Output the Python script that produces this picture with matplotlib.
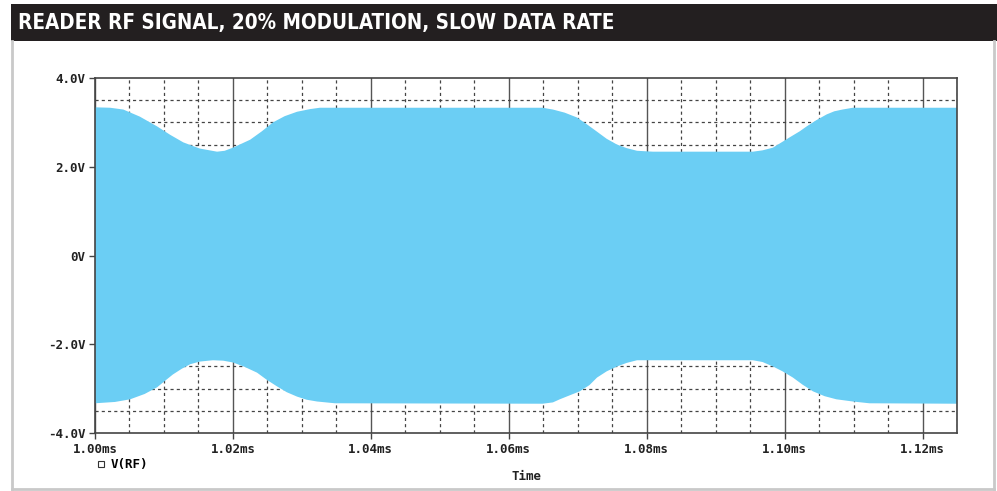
import matplotlib.pyplot as plt
import matplotlib.patches as patches
from matplotlib.ticker import MultipleLocator, FuncFormatter
from matplotlib.lines import Line2D
import numpy as np

# Envelope of the RF carrier (ms, V)
t_upper = [1.000, 1.0022, 1.0041, 1.0065, 1.0090, 1.0109, 1.0128, 1.0152,
           1.0177, 1.0188, 1.0200, 1.0225, 1.0242, 1.0258, 1.0275, 1.0293,
           1.0312, 1.0326, 1.0649, 1.0664, 1.0681, 1.0699, 1.0713, 1.0728,
           1.0742, 1.0757, 1.0771, 1.0786, 1.0809, 1.0954, 1.0968, 1.0983,
           1.1007, 1.1022, 1.1032, 1.1046, 1.1061, 1.1072, 1.1084, 1.1099,
           1.125]
v_upper = [3.34, 3.33, 3.29, 3.13, 2.91, 2.72, 2.55, 2.41,
           2.34, 2.36, 2.43, 2.61, 2.80, 3.00, 3.14, 3.24,
           3.30, 3.33, 3.33, 3.29, 3.22, 3.11, 2.96, 2.79,
           2.63, 2.50, 2.42, 2.36, 2.34, 2.34, 2.37, 2.43,
           2.66, 2.80, 2.91, 3.05, 3.18, 3.25, 3.29, 3.33,
           3.33]

t_lower = [1.000, 1.0029, 1.0051, 1.0072, 1.0090, 1.0101, 1.0113, 1.0126,
           1.0138, 1.0152, 1.0171, 1.0186, 1.0200, 1.0217, 1.0235, 1.0249,
           1.0264, 1.0278, 1.0293, 1.0307, 1.0322, 1.0348, 1.0649, 1.0664,
           1.0674, 1.0703, 1.0717, 1.0728, 1.0742, 1.0757, 1.0771, 1.0786,
           1.0954, 1.0968, 1.0983, 1.0997, 1.1012, 1.1026, 1.1041, 1.1058,
           1.1075, 1.1099, 1.1123, 1.125]
v_lower = [-3.33, -3.30, -3.24, -3.12, -2.97, -2.83, -2.68, -2.55,
           -2.45, -2.39, -2.36, -2.37, -2.41, -2.51, -2.64, -2.80,
           -2.95, -3.08, -3.18, -3.25, -3.29, -3.33, -3.34, -3.31,
           -3.24, -3.06, -2.92, -2.75, -2.61, -2.50, -2.42, -2.36,
           -2.36, -2.40, -2.50, -2.61, -2.75, -2.91, -3.06, -3.17,
           -3.24, -3.29, -3.33, -3.34]

title = "READER RF SIGNAL, 20% MODULATION, SLOW DATA RATE"
fill_color = "#6BCEF4"
mono = "DejaVu Sans Mono"

fig = plt.figure(figsize=(9.97, 4.91), dpi=100)

# black header band + light grey frame
fig.patches.append(patches.Rectangle((0.011, 0.9165), 0.989, 0.0755,
                                     transform=fig.transFigure,
                                     facecolor="#231f20", edgecolor="none"))
frame = "#c9c9c9"
fig.lines.append(Line2D([0.012, 0.012], [0.9165, 0.004], transform=fig.transFigure,
                        color=frame, lw=2))
fig.lines.append(Line2D([0.012, 0.997], [0.004, 0.004], transform=fig.transFigure,
                        color=frame, lw=2))
fig.lines.append(Line2D([0.997, 0.997], [0.9165, 0.004], transform=fig.transFigure,
                        color=frame, lw=2))
fig.text(0.018, 0.954, title, color="white", fontsize=14.8, fontweight="bold",
         fontstretch="condensed", va="center", ha="left")

ax = fig.add_axes([0.0953, 0.1181, 0.8646, 0.7230])

xs = np.concatenate([t_upper, t_lower[::-1]])
ys = np.concatenate([v_upper, v_lower[::-1]])
ax.fill(xs, ys, color=fill_color, lw=0, zorder=2)

ax.set_xlim(1.0, 1.125)
ax.set_ylim(-4, 4)

ax.xaxis.set_major_locator(MultipleLocator(0.02))
ax.xaxis.set_minor_locator(MultipleLocator(0.005))
ax.yaxis.set_major_locator(MultipleLocator(2))
ax.yaxis.set_minor_locator(MultipleLocator(0.5))
ax.xaxis.set_major_formatter(FuncFormatter(lambda v, p: f"{v:.2f}ms"))
ax.yaxis.set_major_formatter(FuncFormatter(lambda v, p: "0V" if abs(v) < 1e-9 else f"{v:.1f}V"))

ax.set_axisbelow(True)
ax.grid(True, axis="x", which="major", color="#555555", lw=1.0, ls="-")
ax.grid(True, axis="x", which="minor", color="#444444", lw=0.9, ls=(0, (2.5, 2.5)))
ax.grid(True, axis="y", which="minor", color="#444444", lw=0.9, ls=(0, (2.5, 2.5)))

for s in ax.spines.values():
    s.set_color("#444444")
    s.set_linewidth(1.2)

ax.tick_params(which="major", direction="out", length=4, width=1, color="#444444",
               labelsize=9, pad=3)
ax.tick_params(which="minor", length=0)
for lab in ax.get_xticklabels() + ax.get_yticklabels():
    lab.set_family(mono)
    lab.set_fontweight("bold")
    lab.set_color("#222222")

ax.set_xlabel("Time", family=mono, fontweight="bold", fontsize=9, color="#222222",
              labelpad=10)

handle = Line2D([], [], ls="none", marker="s", markersize=4, markerfacecolor="white",
                markeredgecolor="#333333", markeredgewidth=0.8)
ax.legend([handle], ["V(RF)"], loc="upper left", bbox_to_anchor=(-0.008, -0.053),
          frameon=False, prop={"family": mono, "weight": "bold", "size": 9},
          handletextpad=0.3, handlelength=1.0, borderpad=0)

fig.savefig("out.png", dpi=100)
